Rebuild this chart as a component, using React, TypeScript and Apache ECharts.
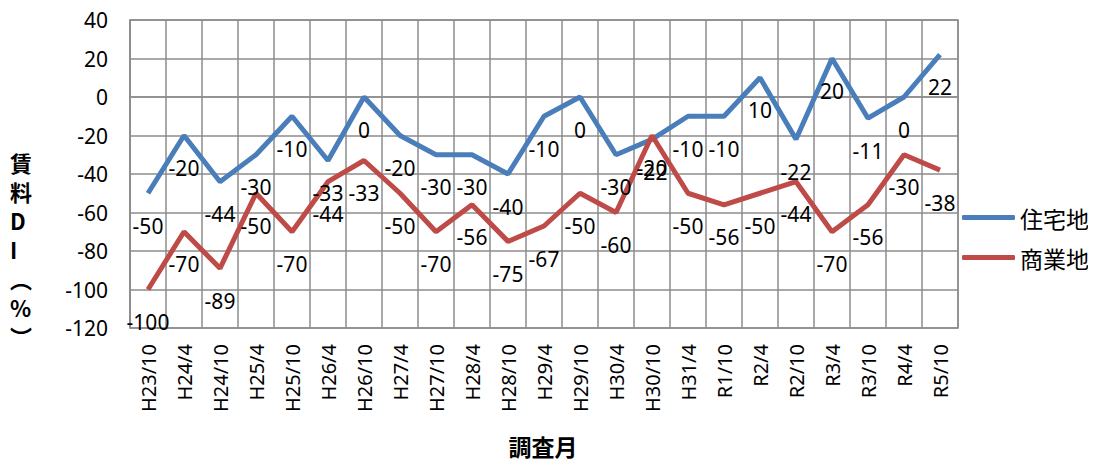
import React, { useEffect, useRef } from "react";
import * as echarts from "echarts";

const categories = [
  "H23/10", "H24/4", "H24/10", "H25/4", "H25/10", "H26/4", "H26/10", "H27/4",
  "H27/10", "H28/4", "H28/10", "H29/4", "H29/10", "H30/4", "H30/10", "H31/4",
  "R1/10", "R2/4", "R2/10", "R3/4", "R3/10", "R4/4", "R5/10",
];
const residential = [-50, -20, -44, -30, -10, -33, 0, -20, -30, -30, -40, -10, 0, -30, -22, -10, -10, 10, -22, 20, -11, 0, 22];
const commercial = [-100, -70, -89, -50, -70, -44, -33, -50, -70, -56, -75, -67, -50, -60, -20, -50, -56, -50, -44, -70, -56, -30, -38];
const seriesNames = ["住宅地", "商業地"];
const yTitleChars = ["賃", "料", "D", "I", "︵", "%", "︶"];
const xTitle = "調査月";

const NUM_FONT = "'Noto Sans', 'Noto Sans CJK JP', sans-serif";
const CJK_FONT = "'Noto Sans CJK JP', sans-serif";

export default function App() {
  const ref = useRef<HTMLDivElement>(null);
  useEffect(() => {
    if (!ref.current) return;
    const chart = echarts.init(ref.current, null, { renderer: "svg" });
    const gridColor = "#8c8c8c";
    const labelCfg = {
      show: true,
      position: "bottom" as const,
      distance: 22,
      fontSize: 21,
      fontFamily: NUM_FONT,
      color: "#000",
    };
    chart.setOption({
      animation: false,
      backgroundColor: "#fff",
      grid: {
        left: 130,
        top: 20,
        right: 138,
        bottom: 134,
        show: true,
        borderColor: gridColor,
        borderWidth: 1.5,
      },
      legend: {
        orient: "vertical",
        left: 957,
        top: 201,
        itemWidth: 53,
        itemHeight: 5,
        itemGap: 17,
        icon: "roundRect",
        data: seriesNames,
        textStyle: { fontSize: 23, fontFamily: CJK_FONT, color: "#000" },
      },
      xAxis: {
        type: "category",
        data: categories,
        boundaryGap: true,
        axisLine: { lineStyle: { color: gridColor, width: 1.5 } },
        axisTick: { show: false },
        splitLine: { show: true, lineStyle: { color: gridColor, width: 1.5 } },
        axisLabel: {
          rotate: 90,
          interval: 0,
          margin: 16,
          fontSize: 20,
          fontFamily: NUM_FONT,
          color: "#000",
        },
      },
      yAxis: {
        type: "value",
        min: -120,
        max: 40,
        interval: 20,
        axisLine: { show: true, lineStyle: { color: gridColor, width: 1.5 } },
        axisTick: { show: false },
        splitLine: { show: true, lineStyle: { color: gridColor, width: 1.5 } },
        axisLabel: {
          margin: 22,
          fontSize: 21,
          fontFamily: NUM_FONT,
          color: "#000",
        },
      },
      graphic: [
        {
          type: "text",
          left: 10,
          top: 147,
          style: {
            text: yTitleChars.join("\n"),
            fontSize: 22,
            fontWeight: "bold",
            fontFamily: CJK_FONT,
            lineHeight: 29,
            align: "center",
            fill: "#000",
          },
        },
        {
          type: "text",
          x: 543,
          y: 446,
          style: {
            text: xTitle,
            fontSize: 23,
            fontWeight: "bold",
            fontFamily: CJK_FONT,
            align: "center",
            verticalAlign: "middle",
            fill: "#000",
          },
        },
      ],
      series: [
        {
          name: seriesNames[0],
          type: "line",
          data: residential,
          symbol: "circle",
          symbolSize: 0.1,
          showSymbol: true,
          lineStyle: { color: "#4a7ebb", width: 5 },
          itemStyle: { color: "#4a7ebb" },
          label: labelCfg,
        },
        {
          name: seriesNames[1],
          type: "line",
          data: commercial,
          symbol: "circle",
          symbolSize: 0.1,
          showSymbol: true,
          lineStyle: { color: "#be4b48", width: 5 },
          itemStyle: { color: "#be4b48" },
          label: labelCfg,
        },
      ],
    });
    return () => chart.dispose();
  }, []);
  return <div ref={ref} style={{ width: 1096, height: 462, marginLeft: -8, marginTop: -8 }} />;
}
